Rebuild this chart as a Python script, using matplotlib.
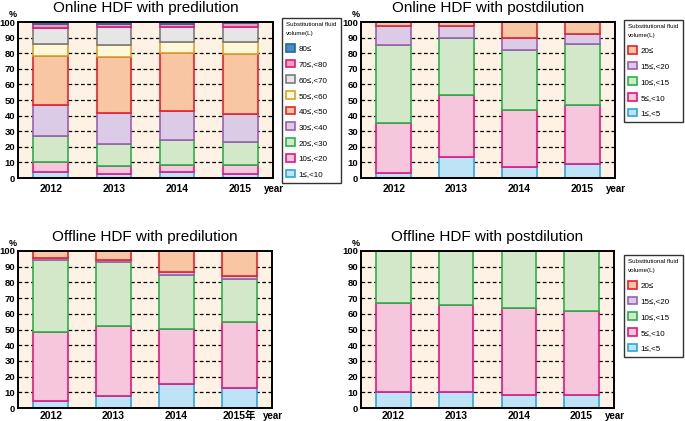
import numpy as np
import matplotlib.pyplot as plt
from matplotlib.patches import Patch

plt.rcParams['font.family'] = ['Liberation Sans', 'Noto Sans CJK JP', 'DejaVu Sans']

years = ["2012", "2013", "2014", "2015"]
years_b = ["2012", "2013", "2014", "2015年"]

# Online HDF with predilution (%), categories low -> high
pre_labels = ["1≤,<10", "10≤,<20", "20≤,<30", "30≤,<40", "40≤,<50",
              "50≤,<60", "60≤,<70", "70≤,<80", "80≤"]
on_pre = [
    [4.0, 2.5, 4.0, 2.5],
    [6.0, 5.0, 4.5, 6.0],
    [17.0, 14.5, 16.0, 14.5],
    [20.0, 19.5, 18.5, 18.0],
    [31.0, 36.0, 37.0, 38.5],
    [8.0, 8.0, 7.0, 7.5],
    [10.0, 11.0, 10.0, 10.0],
    [3.0, 2.5, 2.0, 2.5],
    [1.0, 1.0, 1.0, 0.5],
]

post_labels = ["1≤,<5", "5≤,<10", "10≤,<15", "15≤,<20", "20≤"]
on_post = [
    [3.5, 13.5, 7.0, 9.0],
    [31.5, 40.0, 36.5, 38.0],
    [50.0, 36.0, 38.5, 39.0],
    [12.5, 8.0, 7.5, 6.0],
    [2.5, 2.5, 10.5, 8.0],
]
off_pre = [
    [4.5, 7.5, 15.0, 12.5],
    [44.0, 44.5, 35.5, 42.0],
    [45.5, 41.0, 34.0, 27.5],
    [1.5, 1.0, 2.0, 2.0],
    [4.5, 6.0, 13.5, 16.0],
]
off_post = [
    [10.0, 10.5, 8.5, 8.0],
    [57.0, 55.0, 55.0, 53.5],
    [33.0, 34.5, 36.5, 38.5],
    [0.0, 0.0, 0.0, 0.0],
    [0.0, 0.0, 0.0, 0.0],
]

fills9 = ["#bfe3f6", "#f6c6dc", "#d3e8c8", "#dccbe6", "#f8c6a2",
          "#fff8d8", "#e6e6e6", "#ef9fb6", "#4a8fc4"]
edges9 = ["#2aa6df", "#e4157f", "#2bb04a", "#9d5fb0", "#e8202a",
          "#d4a32c", "#7a7a7a", "#e4157f", "#2566a0"]
fills5 = fills9[:5]
edges5 = edges9[:5]

W, H = 685, 421
bg = "#fdf2e3"


def make_ax(l, r, t, b):
    return fig.add_axes([l / W, 1 - b / H, (r - l) / W, (b - t) / H])


def draw(ax, data, fills, edges, xlabels, title, ypad):
    x = np.arange(len(xlabels))
    ax.set_facecolor(bg)
    for yv in range(10, 100, 10):
        ax.axhline(yv, color="black", linestyle=(0, (3, 2)), linewidth=0.9, zorder=1)
    bottom = np.zeros(len(xlabels))
    for vals, fc, ec in zip(data, fills, edges):
        vals = np.array(vals)
        ax.bar(x, vals, 0.55, bottom=bottom, color=fc, edgecolor=ec,
               linewidth=1.2, zorder=2)
        bottom += vals
    ax.set_xlim(-0.52, 3.52)
    ax.set_ylim(0, 100)
    ax.set_yticks(range(0, 101, 10))
    ax.tick_params(axis="y", length=0, labelsize=6.8, pad=2)
    ax.tick_params(axis="x", length=0, labelsize=7.5, pad=ypad)
    ax.set_xticks(x)
    ax.set_xticklabels(xlabels)
    for lab in ax.get_yticklabels() + ax.get_xticklabels():
        lab.set_fontweight("bold")
    for s in ax.spines.values():
        s.set_linewidth(1.4)
    ax.set_title(title, fontsize=11, pad=7)
    ax.text(-0.02, 1.05, "%", transform=ax.transAxes, fontsize=6.5, fontweight="bold",
            ha="center", va="center")
    ax.text(0.965, -(ypad * 1.39 + 5.5) / (ax.get_position().height * H),
            "year", transform=ax.transAxes, fontsize=7, fontweight="bold",
            ha="left", va="center")


def add_legend(labels, fills, edges, x0, y0):
    handles = [Patch(facecolor=f, edgecolor=e, linewidth=1.2) for f, e in zip(fills, edges)]
    leg = fig.legend(handles[::-1], labels[::-1], loc="upper left",
                     bbox_to_anchor=(x0 / W, 1 - y0 / H),
                     title="Substitutional fluid\nvolume(L)",
                     title_fontproperties={"size": 4.5},
                     fontsize=5.8, frameon=True, fancybox=False, edgecolor="black",
                     handlelength=1.1, handleheight=1.1, handletextpad=0.4,
                     labelspacing=0.88, borderpad=0.55, borderaxespad=0,
                     alignment="left")
    leg.get_title().set_linespacing(1.8)
    leg._legend_box.sep = 6
    leg.get_frame().set_linewidth(1.0)
    return leg


fig = plt.figure(figsize=(6.85, 4.21), dpi=100)

ax1 = make_ax(18, 273, 22, 178)
draw(ax1, on_pre, fills9, edges9, years, "Online HDF with predilution", 4)
add_legend(pre_labels, fills9, edges9, 282, 18)

ax2 = make_ax(361, 615, 22, 178)
draw(ax2, on_post, fills5, edges5, years, "Online HDF with postdilution", 4)
add_legend(post_labels, fills5, edges5, 624, 20)

ax3 = make_ax(18, 272, 251, 408)
draw(ax3, off_pre, fills5, edges5, years_b, "Offline HDF with predilution", 2)

ax4 = make_ax(361, 614, 251, 408)
draw(ax4, off_post, fills5, edges5, years, "Offline HDF with postdilution", 2)
add_legend(post_labels, fills5, edges5, 624, 255)

fig.savefig("out.png", dpi=100)
